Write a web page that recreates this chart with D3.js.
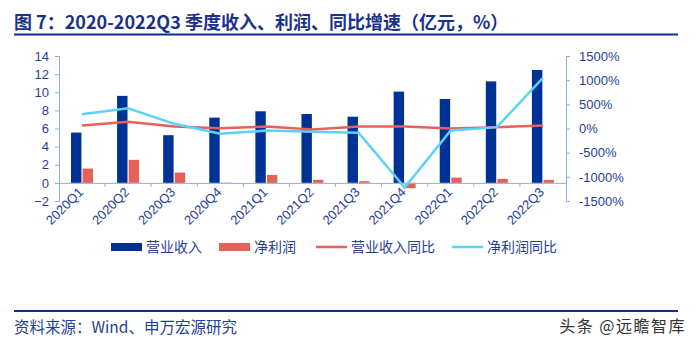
<!DOCTYPE html>
<html><head><meta charset="utf-8">
<script src="https://cdn.jsdelivr.net/npm/d3@7"></script>
<style>body{margin:0;background:#fff;}svg{display:block;}</style>
</head><body>
<svg id="c" width="696" height="345"></svg>
<script>
const categories = ["2020Q1","2020Q2","2020Q3","2020Q4","2021Q1","2021Q2","2021Q3","2021Q4","2022Q1","2022Q2","2022Q3"];
const revenue = [5.55, 9.6, 5.26, 7.2, 7.9, 7.6, 7.3, 10.07, 9.26, 11.2, 12.46];
const profit = [1.58, 2.54, 1.14, 0.03, 0.88, 0.33, 0.18, -0.58, 0.58, 0.44, 0.33];
const revenueYoY = [62, 138, 41, 6, 41, -21, 41, 41, 0, 28, 62];
const profitYoY = [296, 420, 97, -110, -41, -69, -89, -1220, -41, 28, 1049];
const leftTicks = [-2, 0, 2, 4, 6, 8, 10, 12, 14];
const rightTicks = [-1500, -1000, -500, 0, 500, 1000, 1500];
const seriesNames = ["营业收入", "净利润", "营业收入同比", "净利润同比"];

const svg = d3.select("#c");
const textColor = "#1f3f99", axisColor = "#8db0dc";
const cBlue = "#003296", cRed = "#e8605a", cCyan = "#5ad3fb";
const font = "'Liberation Sans', Arial, sans-serif";
const cjk = "'Noto Sans CJK SC', sans-serif";

// title
svg.append("text").attr("x", 14).attr("y", 29).attr("fill", "#1a318c")
  .attr("font-family", cjk).attr("font-weight", "bold").attr("font-size", 18)
  .text("图 7：2020-2022Q3 季度收入、利润、同比增速（亿元，%）");
svg.append("line").attr("x1", 14).attr("x2", 678).attr("y1", 34.5).attr("y2", 34.5)
  .attr("stroke", "#0b2f8f").attr("stroke-width", 2);

const x = d3.scaleBand().domain(categories).range([59, 566]);
const x1 = d3.scaleBand().domain(["rev","profit"]).range([12, 34]).paddingInner(0.1);
const yL = d3.scaleLinear().domain([-2, 14]).range([201, 56]);
const yR = d3.scaleLinear().domain([-1500, 1500]).range([201, 56]);

// bars
const g = svg.append("g");
g.selectAll("rect.rev").data(categories).join("rect")
  .attr("x", (d) => x(d) + x1("rev")).attr("width", x1.bandwidth())
  .attr("y", (d, i) => yL(Math.max(0, revenue[i])))
  .attr("height", (d, i) => Math.abs(yL(revenue[i]) - yL(0)))
  .attr("fill", cBlue);
g.selectAll("rect.pro").data(categories).join("rect")
  .attr("x", (d) => x(d) + x1("profit")).attr("width", x1.bandwidth())
  .attr("y", (d, i) => yL(Math.max(0, profit[i])))
  .attr("height", (d, i) => Math.abs(yL(profit[i]) - yL(0)))
  .attr("fill", cRed);

// axes
const axL = svg.append("g").attr("transform", "translate(59,0)")
  .call(d3.axisLeft(yL).tickValues(leftTicks).tickSize(4).tickPadding(6).tickSizeOuter(4));
const axR = svg.append("g").attr("transform", "translate(566,0)")
  .call(d3.axisRight(yR).tickValues(rightTicks).tickFormat(d => d + "%").tickSize(4).tickPadding(9).tickSizeOuter(4));
const axX = svg.append("g").attr("transform", `translate(0,${yL(0)})`)
  .call(d3.axisBottom(x).tickSize(0).tickFormat(""));
svg.append("g").selectAll("line").data(categories.slice(1)).join("line")
  .attr("x1", d => x(d)).attr("x2", d => x(d))
  .attr("y1", yL(0)).attr("y2", yL(0) + 4).attr("stroke", axisColor);
[axL, axR, axX].forEach(a => {
  a.selectAll("path,line").attr("stroke", axisColor);
  a.selectAll("text").attr("fill", textColor).attr("font-family", font).attr("font-size", 13);
});
// x labels
svg.append("g").selectAll("text").data(categories).join("text")
  .attr("transform", d => `translate(${x(d) + x.bandwidth() / 2 + 2},${yL(0) + 10}) rotate(-45)`)
  .attr("text-anchor", "end").attr("fill", textColor)
  .attr("font-family", font).attr("font-size", 13).text(d => d);

// lines
const lineGen = (arr) => d3.line().x((d) => x(d) + x.bandwidth() / 2).y((d, i) => yR(arr[i]));
svg.append("path").datum(categories).attr("d", lineGen(revenueYoY))
  .attr("fill", "none").attr("stroke", cRed).attr("stroke-width", 2.5);
svg.append("path").datum(categories).attr("d", lineGen(profitYoY))
  .attr("fill", "none").attr("stroke", cCyan).attr("stroke-width", 2.5);

// legend
const lg = svg.append("g").attr("font-family", cjk).attr("font-size", 14).attr("fill", textColor);
const legendX = [111, 219, 316, 452];
const legendTypes = ["rect", "rect", "line", "line"];
const legendColors = [cBlue, cRed, cRed, cCyan];
seriesNames.forEach((n, i) => {
  if (legendTypes[i] === "rect") {
    lg.append("rect").attr("x", legendX[i]).attr("y", 243).attr("width", 31).attr("height", 8).attr("fill", legendColors[i]);
  } else {
    lg.append("line").attr("x1", legendX[i]).attr("x2", legendX[i] + 31).attr("y1", 247).attr("y2", 247)
      .attr("stroke", legendColors[i]).attr("stroke-width", 2.5);
  }
  lg.append("text").attr("x", legendX[i] + 35).attr("y", 252).text(n);
});

// footer
svg.append("line").attr("x1", 14).attr("x2", 678).attr("y1", 311).attr("y2", 311)
  .attr("stroke", "#0b2f8f").attr("stroke-width", 2);
svg.append("text").attr("x", 14).attr("y", 333).attr("fill", textColor)
  .attr("font-family", cjk).attr("font-size", 15.5).text("资料来源：Wind、申万宏源研究");
svg.append("text").attr("x", 686).attr("y", 332).attr("text-anchor", "end").attr("fill", "#333")
  .attr("font-family", cjk).attr("font-size", 16).attr("letter-spacing", 1.5).text("头条 @远瞻智库");
</script>
</body></html>
